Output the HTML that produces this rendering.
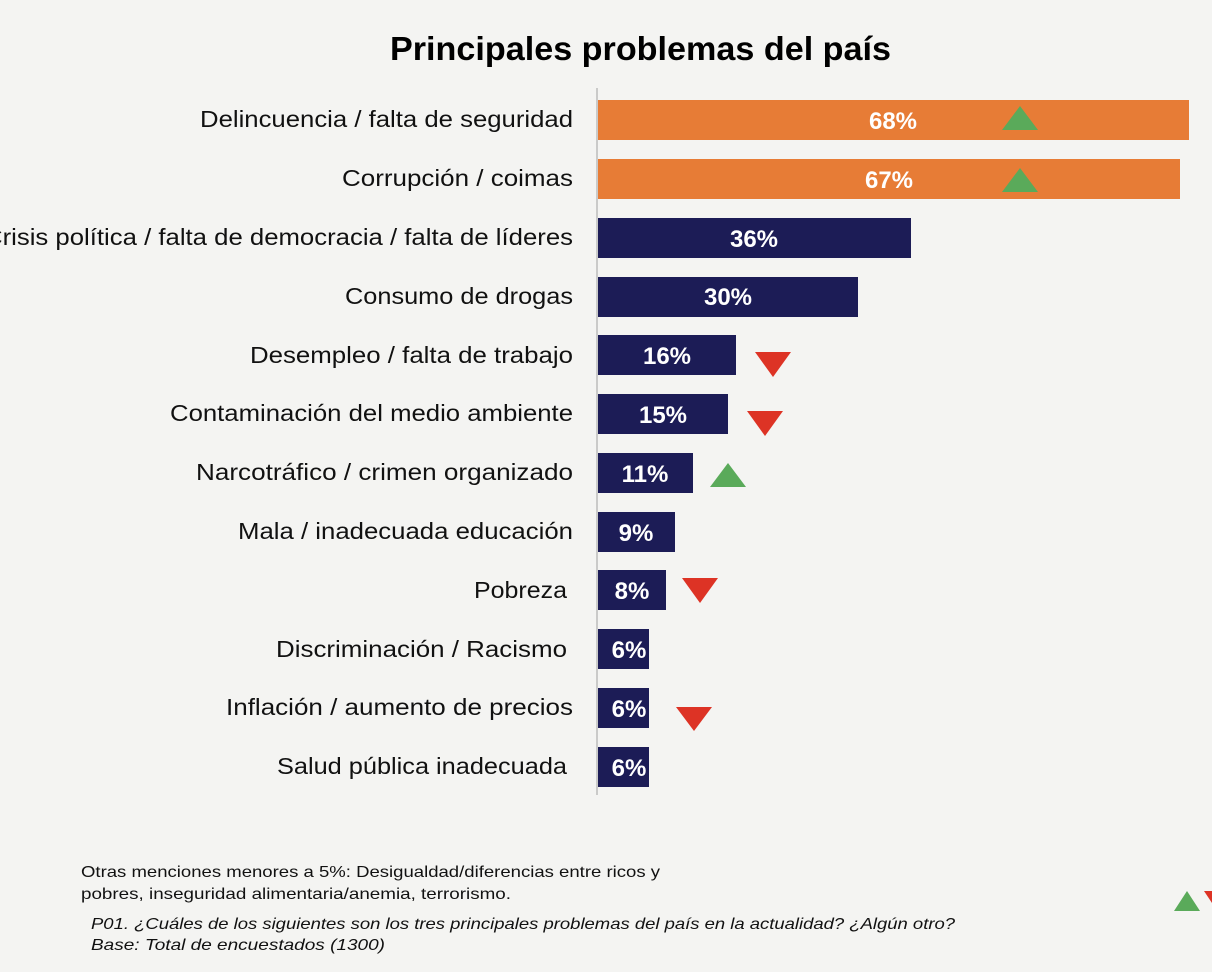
<!DOCTYPE html>
<html><head><meta charset="utf-8"><style>
body{margin:0;background:#f4f4f2;}
svg{display:block;font-family:"Liberation Sans",sans-serif;}
</style></head><body>
<svg width="1212" height="972" viewBox="0 0 1212 972">
<rect width="1212" height="972" fill="#f4f4f2"/>
<text x="390" y="60" textLength="501" lengthAdjust="spacingAndGlyphs" font-size="33" font-weight="bold" fill="#000">Principales problemas del país</text>
<line x1="597" y1="88" x2="597" y2="795" stroke="#bbb" stroke-width="1.5"/>
<g fill="#1c1c56">
<rect x="598" y="218" width="313" height="40"/>
<rect x="598" y="277" width="260" height="40"/>
<rect x="598" y="335" width="138" height="40"/>
<rect x="598" y="394" width="130" height="40"/>
<rect x="598" y="453" width="95" height="40"/>
<rect x="598" y="512" width="77" height="40"/>
<rect x="598" y="570" width="68" height="40"/>
<rect x="598" y="629" width="51" height="40"/>
<rect x="598" y="688" width="51" height="40"/>
<rect x="598" y="747" width="51" height="40"/>
</g>
<g fill="#e77c36">
<rect x="598" y="100" width="591" height="40"/>
<rect x="598" y="159" width="582" height="40"/>
</g>
<g fill="#fff" font-weight="bold" font-size="24" text-anchor="middle">
<text x="893" y="129">68%</text>
<text x="889" y="188">67%</text>
<text x="754" y="247">36%</text>
<text x="728" y="305">30%</text>
<text x="667" y="364">16%</text>
<text x="663" y="423">15%</text>
<text x="645" y="482">11%</text>
<text x="636" y="541">9%</text>
<text x="632" y="599">8%</text>
<text x="629" y="658">6%</text>
<text x="629" y="717">6%</text>
<text x="629" y="776">6%</text>
</g>
<g font-size="23" fill="#111" lengthAdjust="spacingAndGlyphs">
<text x="200" y="127" textLength="373" lengthAdjust="spacingAndGlyphs">Delincuencia / falta de seguridad</text>
<text x="342" y="186" textLength="231" lengthAdjust="spacingAndGlyphs">Corrupción / coimas</text>
<text x="-16" y="245" textLength="589" lengthAdjust="spacingAndGlyphs">Crisis política / falta de democracia / falta de líderes</text>
<text x="345" y="304" textLength="228" lengthAdjust="spacingAndGlyphs">Consumo de drogas</text>
<text x="250" y="363" textLength="323" lengthAdjust="spacingAndGlyphs">Desempleo / falta de trabajo</text>
<text x="170" y="421" textLength="403" lengthAdjust="spacingAndGlyphs">Contaminación del medio ambiente</text>
<text x="196" y="480" textLength="377" lengthAdjust="spacingAndGlyphs">Narcotráfico / crimen organizado</text>
<text x="238" y="539" textLength="335" lengthAdjust="spacingAndGlyphs">Mala / inadecuada educación</text>
<text x="474" y="598" textLength="93" lengthAdjust="spacingAndGlyphs">Pobreza</text>
<text x="276" y="657" textLength="291" lengthAdjust="spacingAndGlyphs">Discriminación / Racismo</text>
<text x="226" y="715" textLength="347" lengthAdjust="spacingAndGlyphs">Inflación / aumento de precios</text>
<text x="277" y="774" textLength="290" lengthAdjust="spacingAndGlyphs">Salud pública inadecuada</text>
</g>
<g fill="#5aaa5a">
<polygon points="1002,130 1038,130 1020,106"/>
<polygon points="1002,192 1038,192 1020,168"/>
<polygon points="710,487 746,487 728,463"/>
<polygon points="1174,911 1200,911 1187,891"/>
</g>
<g fill="#dd3325">
<polygon points="755,352 791,352 773,377"/>
<polygon points="747,411 783,411 765,436"/>
<polygon points="682,578 718,578 700,603"/>
<polygon points="676,707 712,707 694,731"/>
<polygon points="1204,891 1212,891 1212,903"/>
</g>
<g font-size="16" fill="#111">
<text x="81" y="877" textLength="579" lengthAdjust="spacingAndGlyphs">Otras menciones menores a 5%: Desigualdad/diferencias entre ricos y</text>
<text x="81" y="899" textLength="430" lengthAdjust="spacingAndGlyphs">pobres, inseguridad alimentaria/anemia, terrorismo.</text>
<text x="91" y="929" font-style="italic" textLength="864" lengthAdjust="spacingAndGlyphs">P01. ¿Cuáles de los siguientes son los tres principales problemas del país en la actualidad? ¿Algún otro?</text>
<text x="91" y="950" font-style="italic" textLength="294" lengthAdjust="spacingAndGlyphs">Base: Total de encuestados  (1300)</text>
</g>
</svg>
</body></html>
